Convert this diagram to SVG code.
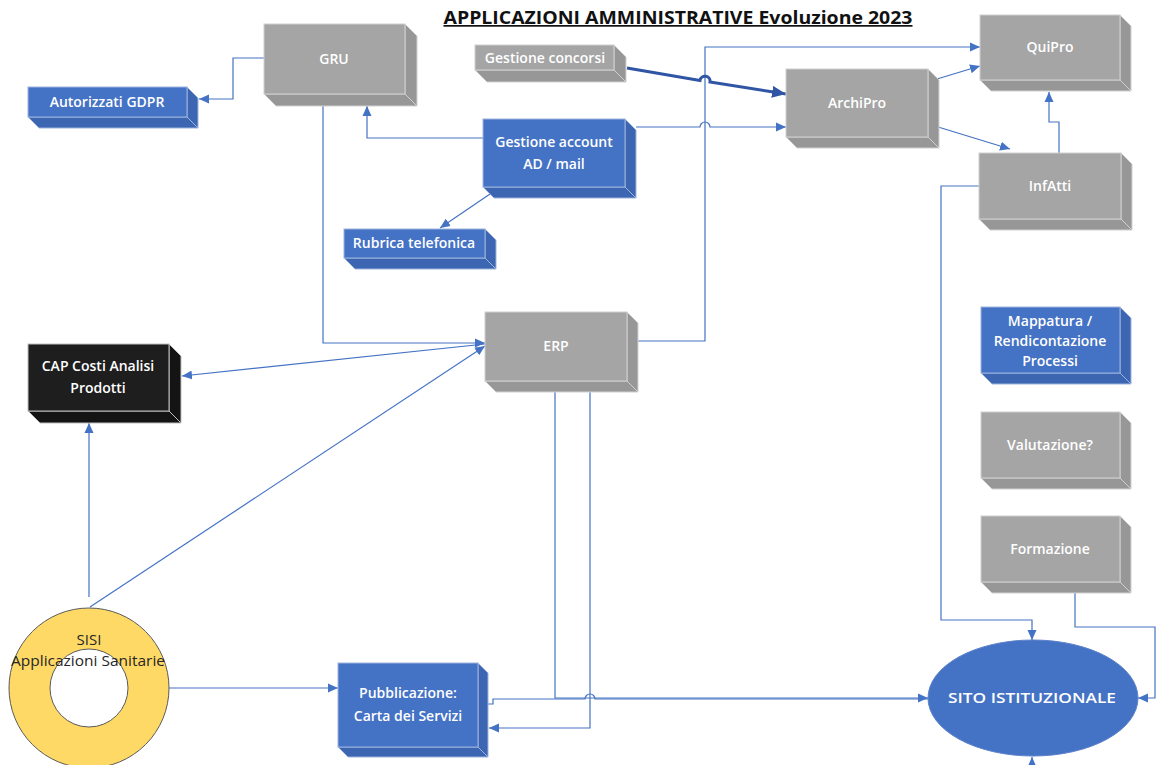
<svg xmlns="http://www.w3.org/2000/svg" width="1156" height="765" viewBox="0 0 1156 765">
<style>
.bg{fill:#ffffff}
.g .f{fill:#A5A5A5;stroke:#D0D0D0;stroke-width:1}
.g .s{fill:#979797;stroke:#D0D0D0;stroke-width:1}
.b .f{fill:#4472C4;stroke:#9DB3DD;stroke-width:1}
.b .s{fill:#3C66B1;stroke:#9DB3DD;stroke-width:1}
.k .f{fill:#1E1E1E;stroke:#BFBFBF;stroke-width:1}
.k .s{fill:#141414;stroke:#BFBFBF;stroke-width:1}
text{font-family:"Open Sans","Noto Sans","Liberation Sans",sans-serif;font-size:14px;text-anchor:middle}
.lbl{fill:#ffffff;font-weight:600}
.dark{fill:#262626;font-weight:normal;font-size:15px}
.title{fill:#111111;font-weight:bold;font-size:17px;text-decoration:underline}
.c{fill:none;stroke:#4472C4;stroke-width:1.2}
.thick{fill:none;stroke:#2F55A4;stroke-width:3}
</style>
<defs>
<marker id="ar" markerUnits="userSpaceOnUse" markerWidth="10" markerHeight="10" viewBox="0 0 10 10" refX="10" refY="5" orient="auto">
<path d="M0,0.5 L10,5 L0,9.5 z" fill="#4472C4"/>
</marker>
<marker id="art" markerUnits="userSpaceOnUse" markerWidth="14" markerHeight="12" viewBox="0 0 14 12" refX="14" refY="6" orient="auto">
<path d="M0,0 L14,6 L0,12 z" fill="#2F55A4"/>
</marker>
</defs>
<rect class="bg" x="0" y="0" width="1156" height="765"/>
<text class="title" x="678" y="24" textLength="469" lengthAdjust="spacingAndGlyphs">APPLICAZIONI AMMINISTRATIVE Evoluzione 2023</text>

<g id="connectors">
<path class="c" d="M264,58 H233 V99 H199" marker-end="url(#ar)"/>
<path class="c" d="M483,138 H367 V106" marker-end="url(#ar)"/>
<path class="c" d="M323,106 V343 H485" marker-end="url(#ar)"/>
<path class="c" d="M90,607 L485,346" marker-end="url(#ar)"/>
<path class="c" d="M89,597 V423" marker-end="url(#ar)"/>
<path class="c" d="M485,344 L182,376" marker-end="url(#ar)"/>
<path class="c" d="M627,341 H705 V47 H980" marker-end="url(#ar)"/>
<path class="thick" d="M627,68 L700,80.5 A5,5 0 0 1 710,82 L786,94" marker-end="url(#art)"/>
<path class="c" d="M636,127 H700 A5,5 0 0 1 710,127 H786" marker-end="url(#ar)"/>
<path class="c" d="M937,79 L980,66" marker-end="url(#ar)"/>
<path class="c" d="M925,123 L1010,149" marker-end="url(#ar)"/>
<path class="c" d="M1059,153 V122 H1049 V92" marker-end="url(#ar)"/>
<path class="c" d="M979,186 H941 V620 H1032 V640" marker-end="url(#ar)"/>
<path class="c" d="M1075,593 V627 H1155 V698 H1138" marker-end="url(#ar)"/>
<path class="c" d="M1032,765 V757" marker-end="url(#ar)"/>
<path class="c" d="M555,392 V698 H928" marker-end="url(#ar)"/>
<path class="c" d="M488,704 H493 V699 H585 A5,5 0 0 1 595,699 H928"/>
<path class="c" d="M590,392 V728 H489" marker-end="url(#ar)"/>
<path class="c" d="M169,688 H338" marker-end="url(#ar)"/>
<path class="c" d="M490,194 L440,228" marker-end="url(#ar)"/>
</g>

<g id="gru" class="g">
<polygon class="s" points="264,94 405,94 417,106 276,106"/>
<polygon class="s" points="405,24 417,36 417,106 405,94"/>
<rect class="f" x="264" y="24" width="141" height="70"/>
<text class="lbl" x="334" y="64">GRU</text>
</g>
<g id="autorizzati" class="b">
<polygon class="s" points="28,117 187,117 198,128 39,128"/>
<polygon class="s" points="187,87 198,98 198,128 187,117"/>
<rect class="f" x="28" y="87" width="159" height="30"/>
<text class="lbl" x="107" y="107">Autorizzati GDPR</text>
</g>
<g id="concorsi" class="g">
<polygon class="s" points="475,70 614,70 626,82 487,82"/>
<polygon class="s" points="614,45 626,57 626,82 614,70"/>
<rect class="f" x="475" y="45" width="139" height="25"/>
<text class="lbl" x="545" y="63">Gestione concorsi</text>
</g>
<g id="account" class="b">
<polygon class="s" points="483,187 625,187 636,198 494,198"/>
<polygon class="s" points="625,119 636,130 636,198 625,187"/>
<rect class="f" x="483" y="119" width="142" height="68"/>
<text class="lbl" x="554" y="147">Gestione account</text>
<text class="lbl" x="554" y="169">AD / mail</text>
</g>
<g id="rubrica" class="b">
<polygon class="s" points="344,258 485,258 496,269 355,269"/>
<polygon class="s" points="485,229 496,240 496,269 485,258"/>
<rect class="f" x="344" y="229" width="141" height="29"/>
<text class="lbl" x="414" y="248">Rubrica telefonica</text>
</g>
<g id="archipro" class="g">
<polygon class="s" points="786,137 928,137 939,148 797,148"/>
<polygon class="s" points="928,69 939,80 939,148 928,137"/>
<rect class="f" x="786" y="69" width="142" height="68"/>
<text class="lbl" x="857" y="108">ArchiPro</text>
</g>
<g id="quipro" class="g">
<polygon class="s" points="980,80 1120,80 1131,91 991,91"/>
<polygon class="s" points="1120,15 1131,26 1131,91 1120,80"/>
<rect class="f" x="980" y="15" width="140" height="65"/>
<text class="lbl" x="1050" y="52">QuiPro</text>
</g>
<g id="infatti" class="g">
<polygon class="s" points="979,219 1121,219 1132,230 990,230"/>
<polygon class="s" points="1121,153 1132,164 1132,230 1121,219"/>
<rect class="f" x="979" y="153" width="142" height="66"/>
<text class="lbl" x="1050" y="191">InfAtti</text>
</g>
<g id="cap" class="k">
<polygon class="s" points="28,411 169,411 181,423 40,423"/>
<polygon class="s" points="169,344 181,356 181,423 169,411"/>
<rect class="f" x="28" y="344" width="141" height="67"/>
<text class="lbl" x="98" y="371">CAP Costi Analisi</text>
<text class="lbl" x="98" y="393">Prodotti</text>
</g>
<g id="erp" class="g">
<polygon class="s" points="485,381 627,381 638,392 496,392"/>
<polygon class="s" points="627,312 638,323 638,392 627,381"/>
<rect class="f" x="485" y="312" width="142" height="69"/>
<text class="lbl" x="556" y="351">ERP</text>
</g>
<g id="mappatura" class="b">
<polygon class="s" points="981,373 1120,373 1131,384 992,384"/>
<polygon class="s" points="1120,307 1131,318 1131,384 1120,373"/>
<rect class="f" x="981" y="307" width="139" height="66"/>
<text class="lbl" x="1050" y="326">Mappatura /</text>
<text class="lbl" x="1050" y="346">Rendicontazione</text>
<text class="lbl" x="1050" y="366">Processi</text>
</g>
<g id="valutazione" class="g">
<polygon class="s" points="981,478 1120,478 1131,489 992,489"/>
<polygon class="s" points="1120,412 1131,423 1131,489 1120,478"/>
<rect class="f" x="981" y="412" width="139" height="66"/>
<text class="lbl" x="1050" y="450">Valutazione?</text>
</g>
<g id="formazione" class="g">
<polygon class="s" points="981,582 1120,582 1131,593 992,593"/>
<polygon class="s" points="1120,516 1131,527 1131,593 1120,582"/>
<rect class="f" x="981" y="516" width="139" height="66"/>
<text class="lbl" x="1050" y="554">Formazione</text>
</g>
<g id="pubblicazione" class="b">
<polygon class="s" points="338,747 478,747 488,757 348,757"/>
<polygon class="s" points="478,663 488,673 488,757 478,747"/>
<rect class="f" x="338" y="663" width="140" height="84"/>
<text class="lbl" x="408" y="698">Pubblicazione:</text>
<text class="lbl" x="408" y="721">Carta dei Servizi</text>
</g>
<g id="sito">
<ellipse cx="1033" cy="698" rx="105" ry="58" fill="#4472C4" stroke="#5B82CC" stroke-width="1"/>
<text class="lbl" x="1032" y="703" textLength="168" lengthAdjust="spacingAndGlyphs">SITO ISTITUZIONALE</text>
</g>
<g id="sisi">
<path d="M9,688 A80,80 0 1 0 169,688 A80,80 0 1 0 9,688 Z M50,688 A39,39 0 1 1 128,688 A39,39 0 1 1 50,688 Z" fill="#FFD966" fill-rule="evenodd" stroke="#5A5A5A" stroke-width="1"/>
<text class="dark" x="89" y="645">SISI</text>
<text class="dark" x="88" y="666" textLength="154" lengthAdjust="spacingAndGlyphs">Applicazioni Sanitarie</text>
</g>
</svg>
